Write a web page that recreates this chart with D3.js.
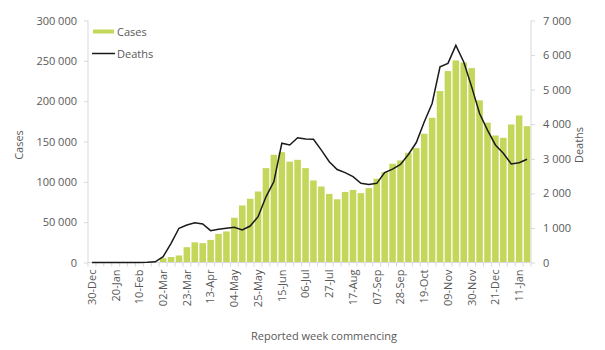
<!DOCTYPE html>
<html><head><meta charset="utf-8">
<script src="https://cdn.jsdelivr.net/npm/d3@7"></script>
<style>body{margin:0;background:#fff}svg{display:block}text{font-family:"Open Sans",sans-serif;fill:#595959}</style>
</head><body><svg id="c" width="605" height="350"></svg>
<script>
const weeks = ["30-Dec","06-Jan","13-Jan","20-Jan","27-Jan","03-Feb","10-Feb","17-Feb","24-Feb","02-Mar","09-Mar","16-Mar","23-Mar","30-Mar","06-Apr","13-Apr","20-Apr","27-Apr","04-May","11-May","18-May","25-May","01-Jun","08-Jun","15-Jun","22-Jun","29-Jun","06-Jul","13-Jul","20-Jul","27-Jul","03-Aug","10-Aug","17-Aug","24-Aug","31-Aug","07-Sep","14-Sep","21-Sep","28-Sep","05-Oct","12-Oct","19-Oct","26-Oct","02-Nov","09-Nov","16-Nov","23-Nov","30-Nov","07-Dec","14-Dec","21-Dec","28-Dec","04-Jan","11-Jan","18-Jan"];
const cases = [0,0,0,0,0,0,0,0,0,5500,6800,8700,19000,25000,24000,28000,35500,38500,55500,70700,79000,88000,117000,133500,136800,125000,127300,117000,101700,94200,85000,78400,87500,90000,86000,92200,103800,112000,122400,126500,136000,141800,159600,179400,212500,237300,250500,248000,241000,201000,173300,157500,154600,171100,182300,169000];
const deaths = [0,0,0,0,0,0,0,5,20,170,555,990,1085,1150,1115,920,960,990,1020,940,1055,1325,1900,2340,3450,3400,3610,3570,3565,3250,2915,2690,2600,2485,2290,2260,2290,2600,2700,2835,3125,3470,4065,4600,5660,5760,6280,5800,5080,4310,3830,3400,3160,2850,2885,2985];
const leftTicks = [0,50000,100000,150000,200000,250000,300000];
const rightTicks = [0,1000,2000,3000,4000,5000,6000,7000];
const xLabelEvery = 3;

const svg = d3.select("#c");
const L = 88, R = 531, T = 20.5, B = 262.5;
const axisCol = "#d9d9d9", barCol = "#c5d75b";
const fmt = v => d3.format(",")(v).replace(/,/g, " ");

const x = d3.scaleBand().domain(weeks).range([L, R]).paddingInner(0.17).paddingOuter(0.085);
const yL = d3.scaleLinear().domain([0, 300000]).range([B, T]);
const yR = d3.scaleLinear().domain([0, 7000]).range([B, T]);

// bars
svg.append("g").selectAll("rect").data(weeks).join("rect")
  .attr("x", d => x(d)).attr("width", x.bandwidth())
  .attr("y", (d,i) => yL(cases[i])).attr("height", (d,i) => B - yL(cases[i]))
  .attr("fill", barCol);

// left axis
const gl = svg.append("g").attr("transform", `translate(${L},0)`)
  .call(d3.axisLeft(yL).tickValues(leftTicks).tickFormat(fmt).tickSize(4).tickPadding(7));
// right axis
const gr = svg.append("g").attr("transform", `translate(${R},0)`)
  .call(d3.axisRight(yR).tickValues(rightTicks).tickFormat(fmt).tickSize(4).tickPadding(8));
// x axis
const gx = svg.append("g").attr("transform", `translate(0,${B})`)
  .call(d3.axisBottom(x).tickValues(weeks.filter((d,i)=>i%xLabelEvery===0)).tickSize(0).tickPadding(0));
gx.selectAll(".tick text").attr("transform","rotate(-90)").attr("text-anchor","end")
  .attr("x", -7).attr("y", 0).attr("dy","0.35em");
// boundary ticks for every week
svg.append("g").selectAll("line").data(d3.range(weeks.length+1)).join("line")
  .attr("x1", i => L + i*(R-L)/weeks.length).attr("x2", i => L + i*(R-L)/weeks.length)
  .attr("y1", B).attr("y2", B+4).attr("stroke", axisCol);

[gl, gr, gx].forEach(g => {
  g.select(".domain").attr("stroke", axisCol);
  g.selectAll(".tick line").attr("stroke", axisCol);
  g.selectAll(".tick text").attr("fill", "#595959").style("font-size","11px").style("font-family","'Open Sans',sans-serif");
});
gl.select(".domain").attr("d", `M0,${T}V${B}`);
gr.select(".domain").attr("d", `M0,${T}V${B}`);
gx.select(".domain").attr("d", `M${L},0H${R}`);

// deaths line
svg.append("path")
  .attr("d", d3.line().x((d,i) => x(weeks[i]) + x.bandwidth()/2).y(d => yR(d))(deaths))
  .attr("fill","none").attr("stroke","#1a1a1a").attr("stroke-width",1.5);

// titles
svg.append("text").attr("transform","translate(23,145) rotate(-90)").attr("text-anchor","middle")
  .style("font-size","11px").text("Cases");
svg.append("text").attr("transform","translate(583,145) rotate(-90)").attr("text-anchor","middle")
  .style("font-size","11px").text("Deaths");
svg.append("text").attr("x", 324).attr("y", 340).attr("text-anchor","middle")
  .style("font-size","11px").text("Reported week commencing");

// legend
const lg = svg.append("g");
lg.append("rect").attr("x",93).attr("y",29.5).attr("width",21).attr("height",4).attr("fill",barCol);
lg.append("text").attr("x",117).attr("y",35.5).style("font-size","11px").text("Cases");
lg.append("line").attr("x1",92).attr("x2",115).attr("y1",53.5).attr("y2",53.5).attr("stroke","#1a1a1a").attr("stroke-width",1.5);
lg.append("text").attr("x",117).attr("y",57.5).style("font-size","11px").text("Deaths");
</script></body></html>
